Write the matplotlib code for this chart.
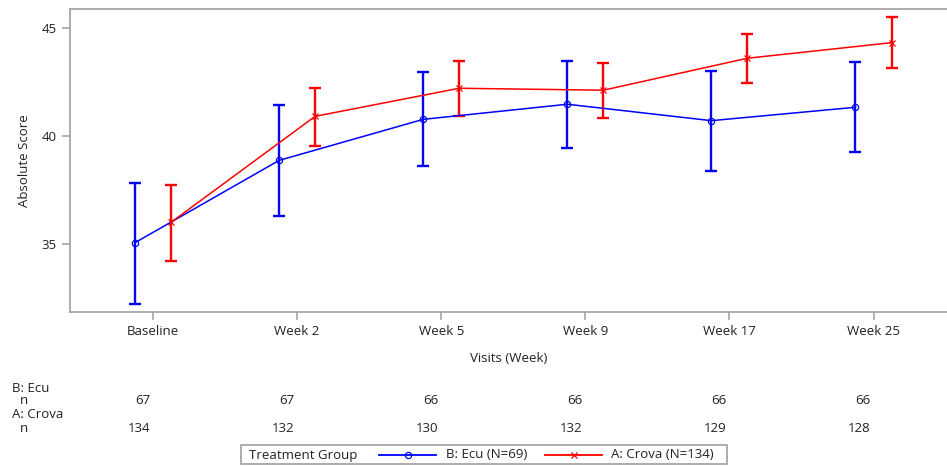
import numpy as np
import matplotlib.pyplot as plt
from matplotlib.lines import Line2D
from matplotlib.patches import Rectangle
from matplotlib.transforms import blended_transform_factory

plt.rcParams['font.family'] = ['Open Sans', 'DejaVu Sans']

visits = ["Baseline", "Week 2", "Week 5", "Week 9", "Week 17", "Week 25"]

# B: Ecu - mean and 95% CI per visit
ecu_mean = [35.06, 38.87, 40.77, 41.47, 40.71, 41.33]
ecu_low = [32.24, 36.30, 38.60, 39.44, 38.38, 39.25]
ecu_high = [37.84, 41.44, 42.98, 43.49, 43.01, 43.43]
ecu_n = [67, 67, 66, 66, 66, 66]

# A: Crova
crova_mean = [36.00, 40.91, 42.21, 42.12, 43.60, 44.32]
crova_low = [34.23, 39.54, 40.93, 40.83, 42.45, 43.15]
crova_high = [37.73, 42.24, 43.49, 43.39, 44.73, 45.52]
crova_n = [134, 132, 130, 132, 129, 128]

BLUE = "#0000ff"
RED = "#ff0000"
GREY = "#a6a6a6"
INK = "#222222"
FS = 9.5

fig = plt.figure(figsize=(9.47, 4.67), dpi=100)
ax = fig.add_axes([70 / 947, 1 - 312 / 467, 877 / 947, 303 / 467])

x = np.arange(len(visits))
shift = 0.125


def draw_group(xpos, mean, low, high, color, marker):
    mean = np.array(mean)
    err = [mean - np.array(low), np.array(high) - mean]
    ax.errorbar(xpos, mean, yerr=err, fmt="none", ecolor=color,
                elinewidth=1.7, capsize=4.2, capthick=1.7, zorder=2)
    ax.plot(xpos, mean, color=color, lw=1.1, marker=marker, ms=4.5,
            mfc="none", mec=color, mew=0.9, zorder=3)


draw_group(x - shift, ecu_mean, ecu_low, ecu_high, BLUE, "o")
draw_group(x + shift, crova_mean, crova_low, crova_high, RED, "x")

ax.set_xlim(-0.576, 5.51)
ax.set_ylim(31.85, 45.88)
ax.set_xticks(x)
ax.set_xticklabels(visits)
ax.set_yticks([35, 40, 45])
ax.tick_params(colors=GREY, labelcolor=INK, labelsize=FS,
               length=6, width=1.2)
for side in ["left", "bottom", "top"]:
    ax.spines[side].set_color(GREY)
    ax.spines[side].set_linewidth(1.3)
ax.spines["right"].set_visible(False)

ax.set_ylabel("Absolute Score", fontsize=FS, color=INK, labelpad=8)
ax.set_xlabel("Visits (Week)", fontsize=FS, color=INK, labelpad=10)

# subject counts below the axis
tr = blended_transform_factory(ax.transData, fig.transFigure)
fy = lambda py: 1 - py / 467
fig.text(12 / 947, fy(388), "B: Ecu", fontsize=FS, va="center", color=INK)
fig.text(20 / 947, fy(401), "n", fontsize=FS, va="center", color=INK)
fig.text(12 / 947, fy(415), "A: Crova", fontsize=FS, va="center", color=INK)
fig.text(20 / 947, fy(428), "n", fontsize=FS, va="center", color=INK)
for xi, ne, nc in zip(x, ecu_n, crova_n):
    ax.text(xi - 0.02, fy(401), str(ne), transform=tr, ha="right",
            va="center", fontsize=FS, color=INK, clip_on=False)
    ax.text(xi - 0.02, fy(428), str(nc), transform=tr, ha="right",
            va="center", fontsize=FS, color=INK, clip_on=False)

# legend box
fig.patches.append(Rectangle((241 / 947, fy(464)), 486 / 947, 19 / 467,
                             transform=fig.transFigure, fill=False,
                             ec=GREY, lw=1.3))
ly = fy(455)
fig.text(249 / 947, ly, "Treatment Group", fontsize=FS, va="center",
         color=INK)
fig.lines.append(Line2D([379 / 947, 436 / 947], [ly, ly], color=BLUE,
                        lw=1.3, transform=fig.transFigure))
fig.lines.append(Line2D([407.5 / 947], [ly], color=BLUE, marker="o", ms=4.5,
                        mfc="none", mew=0.9, transform=fig.transFigure))
fig.text(446 / 947, ly, "B: Ecu (N=69)", fontsize=FS, va="center",
         color=INK)
fig.lines.append(Line2D([545 / 947, 602 / 947], [ly, ly], color=RED,
                        lw=1.3, transform=fig.transFigure))
fig.lines.append(Line2D([573.5 / 947], [ly], color=RED, marker="x", ms=4.5,
                        mew=0.9, transform=fig.transFigure))
fig.text(611 / 947, ly, "A: Crova (N=134)", fontsize=FS, va="center",
         color=INK)

fig.savefig("out.png", dpi=100)
